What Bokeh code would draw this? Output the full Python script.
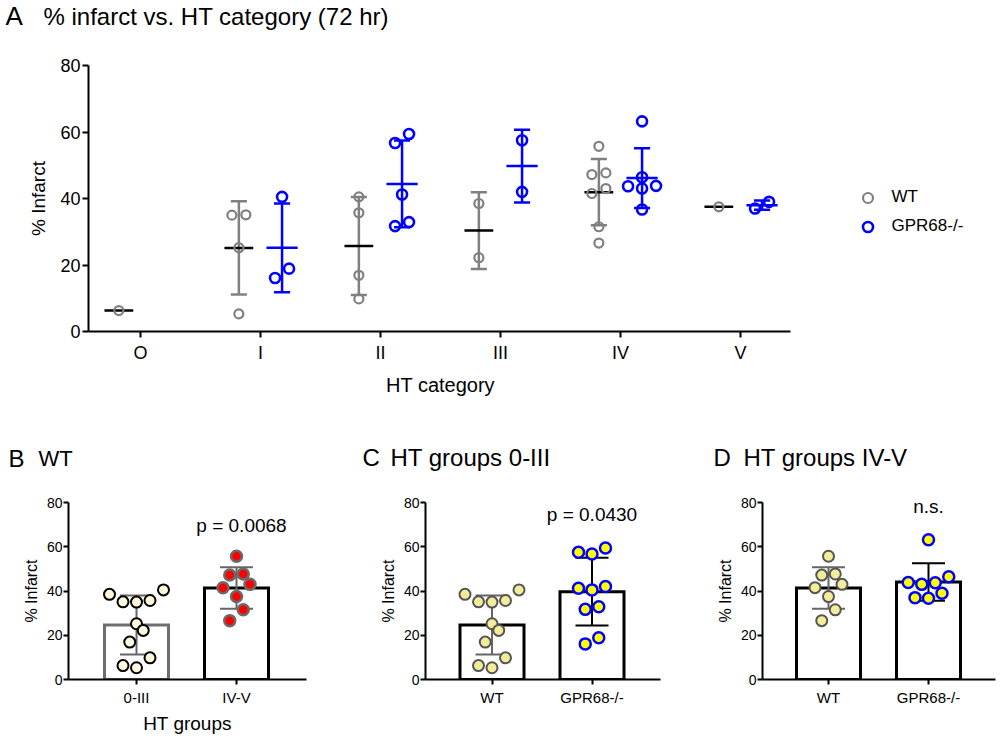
import numpy as np
from bokeh.plotting import figure
from bokeh.models import Range1d, FixedTicker, Label, Legend, LegendItem
from bokeh.layouts import column, row
from bokeh.embed import file_html
from bokeh.resources import INLINE

# ---------------- data ----------------
categories = ["O", "I", "II", "III", "IV", "V"]

wt_O = [6.3]
wt_I = [35.0, 35.1, 25.2, 5.3]
wt_II = [40.5, 35.7, 16.9, 9.8]
wt_III = [38.5, 22.2]
wt_IV = [55.7, 47.7, 47.2, 43.0, 41.5, 31.5, 26.6]
wt_V = [37.5]

gpr_O = []
gpr_I = [40.5, 18.9, 16.1]
gpr_II = [59.4, 56.7, 41.2, 32.9, 31.7]
gpr_III = [57.5, 42.0]
gpr_IV = [63.2, 46.4, 43.8, 43.7, 43.0, 36.7]
gpr_V = [39.0, 37.0]

wt_by_cat = [wt_O, wt_I, wt_II, wt_III, wt_IV, wt_V]
gpr_by_cat = [gpr_O, gpr_I, gpr_II, gpr_III, gpr_IV, gpr_V]

# pooled groups for panels B-D
wt_low = wt_O + wt_I + wt_II + wt_III      # HT 0-III
wt_high = wt_IV + wt_V                       # HT IV-V
gpr_low = gpr_O + gpr_I + gpr_II + gpr_III
gpr_high = gpr_IV + gpr_V

groups_B = ["0-III", "IV-V"]
groups_CD = ["WT", "GPR68-/-"]
series_names = ["WT", "GPR68-/-"]
p_text_B = "p = 0.0068"
p_text_C = "p = 0.0430"
p_text_D = "n.s."

FONT = "Liberation Sans"
GRAY = "#808080"
BLUE = "#0000ff"
DARK = "#666666"
LBL_DY = 8   # baseline correction for Label text


def mean_sd(v):
    v = np.asarray(v, float)
    if len(v) == 0:
        return np.nan, np.nan
    return v.mean(), (v.std(ddof=1) if len(v) > 1 else 0.0)


def swarm(vals, px_per_y, px_per_x, thresh_px, step_px):
    """Spread points with similar values side by side (dot-plot layout)."""
    vals = np.asarray(vals, float)
    order = np.argsort(vals, kind="stable")
    off = np.zeros(len(vals))
    groups, cur = [], []
    for i in order:
        if cur and (vals[i] - vals[cur[0]]) * px_per_y <= thresh_px:
            cur.append(i)
        else:
            if cur:
                groups.append(cur)
            cur = [i]
    if cur:
        groups.append(cur)
    for g in groups:
        n = len(g)
        if n % 2:
            slots = [0] + [s for k in range(1, n // 2 + 1) for s in (-k, k)]
        else:
            slots = [s for k in range(n // 2) for s in (-(k + 0.5), k + 0.5)]
        for k, idx in enumerate(g):
            off[idx] = slots[k] * step_px / px_per_x
    return off


def style_axes(p, tick_font, label_font, tick_out, lw, tick_stand, label_stand):
    for ax in (p.xaxis[0], p.yaxis[0]):
        ax.axis_line_width = lw
        ax.axis_line_color = "black"
        ax.major_tick_line_width = lw
        ax.major_tick_line_color = "black"
        ax.major_tick_out = tick_out
        ax.major_tick_in = 0
        ax.minor_tick_line_color = None
        ax.major_label_text_font = FONT
        ax.major_label_text_color = "black"
        ax.axis_label_text_font = FONT
        ax.axis_label_text_font_style = "normal"
        ax.axis_label_text_color = "black"
    p.xaxis[0].major_label_text_font_size = tick_font[0]
    p.yaxis[0].major_label_text_font_size = tick_font[1]
    p.xaxis[0].axis_label_text_font_size = label_font[0]
    p.yaxis[0].axis_label_text_font_size = label_font[1]
    p.xaxis[0].major_label_standoff = tick_stand[0]
    p.yaxis[0].major_label_standoff = tick_stand[1]
    p.xaxis[0].axis_label_standoff = label_stand[0]
    p.yaxis[0].axis_label_standoff = label_stand[1]
    p.xgrid.grid_line_color = None
    p.ygrid.grid_line_color = None
    p.outline_line_color = None


def add_text(p, x, y, text, size, align="left"):
    p.add_layout(Label(x=x, y=y + LBL_DY, x_units="screen", y_units="screen", text=text,
                       text_font=FONT, text_font_size=size, text_color="black",
                       text_align=align, text_baseline="alphabetic"))


def strip(height):
    s = figure(width=1000, height=height, x_range=Range1d(0, 1000), y_range=Range1d(0, height),
               output_backend="svg", toolbar_location=None, min_border=0,
               x_axis_location=None, y_axis_location=None)
    s.outline_line_color = None
    s.xgrid.grid_line_color = None
    s.ygrid.grid_line_color = None
    return s


# ---------------- title strip for A ----------------
sA = strip(40)
add_text(sA, 5, 17, "A", "26px")
add_text(sA, 43, 16, "% infarct vs. HT category (72 hr)", "24px")

# ---------------- Panel A ----------------
A_LEFT, A_FH = 88, 267
a_ppx = 120.0
a_x0 = -0.433
a_axis_end = 5.417
pA = figure(width=1000, height=325,
            x_range=Range1d(a_x0, a_x0 + (1000 - A_LEFT) / a_ppx), y_range=Range1d(0, 80),
            output_backend="svg", toolbar_location=None,
            min_border_left=A_LEFT, min_border_right=0, min_border_top=25, min_border_bottom=33)
style_axes(pA, ("18px", "18px"), ("20px", "19px"), 6, 2, (5, 2), (5, 8))
pA.xaxis[0].ticker = FixedTicker(ticks=list(range(len(categories))))
pA.xaxis[0].major_label_overrides = {i: c for i, c in enumerate(categories)}
pA.xaxis[0].bounds = (a_x0, a_axis_end)
pA.yaxis[0].ticker = FixedTicker(ticks=[0, 20, 40, 60, 80])
pA.yaxis[0].axis_label = "% Infarct"

a_ppy = A_FH / 80.0
dodge = 0.18

wt_x, wt_y, gpr_x, gpr_y = [], [], [], []
for ci, (wv, gv) in enumerate(zip(wt_by_cat, gpr_by_cat)):
    for vals, sign, xs, ys, col, mcol, mhalf in ((wv, -1, wt_x, wt_y, GRAY, "black", 0.12),
                                                  (gv, 1, gpr_x, gpr_y, BLUE, BLUE, 0.13)):
        if not vals:
            continue
        xc = ci + sign * dodge
        off = swarm(vals, a_ppy, a_ppx, 10, 14)
        xs.extend(list(xc + off))
        ys.extend(vals)
        m, s = mean_sd(vals)
        if len(vals) > 1:
            pA.segment(x0=[xc], y0=[m - s], x1=[xc], y1=[m + s], line_color=col, line_width=2.5)
            pA.segment(x0=[xc - 0.067, xc - 0.067], y0=[m - s, m + s],
                       x1=[xc + 0.067, xc + 0.067], y1=[m - s, m + s],
                       line_color=col, line_width=2.5)
        pA.segment(x0=[xc - mhalf], y0=[m], x1=[xc + mhalf], y1=[m], line_color=mcol, line_width=2.5)

r_wt = pA.scatter(wt_x, wt_y, marker="circle", size=9, fill_color=None, line_color=GRAY, line_width=2.2)
r_gpr = pA.scatter(gpr_x, gpr_y, marker="circle", size=10, fill_color=None, line_color=BLUE, line_width=2.6)

legend = Legend(items=[LegendItem(label=series_names[0], renderers=[r_wt]),
                       LegendItem(label=series_names[1], renderers=[r_gpr])],
                location=(766.5, 92.5), orientation="vertical", glyph_width=25, glyph_height=25,
                label_height=25, spacing=4, padding=0, margin=0, label_standoff=12,
                border_line_color=None, background_fill_alpha=0,
                label_text_font=FONT, label_text_font_size="17px", label_text_color="black")
pA.add_layout(legend)

# ---------------- strip: A's x-axis title, titles of B, C, D ----------------
sB = strip(115)
add_text(sB, 440, 88, "HT category", "20px", "center")
add_text(sB, 8, 14, "B", "24px")
add_text(sB, 38, 14, "WT", "22px")
add_text(sB, 362, 15, "C", "24px")
add_text(sB, 390, 15, "HT groups 0-III", "24px")
add_text(sB, 713, 15, "D", "24px")
add_text(sB, 743, 15, "HT groups IV-V", "24px")

# ---------------- Panels B, C, D ----------------
BAR_FH = 177


def bar_panel(width, left, frame_w, x_start, labels, data, bar_lines, err_cols,
              pt_fills, pt_lines, pt_lws, xlabel=None):
    right = width - left - frame_w
    p = figure(width=width, height=260, x_range=Range1d(x_start, x_start + frame_w / 100.0),
               y_range=Range1d(0, 80), output_backend="svg", toolbar_location=None,
               min_border_left=left, min_border_right=right, min_border_top=22, min_border_bottom=61)
    style_axes(p, ("15px", "14px"), ("19px", "16px"), 5, 2, (4, 1), (4, 4))
    p.xaxis[0].ticker = FixedTicker(ticks=[0, 1])
    p.xaxis[0].major_label_overrides = {i: c for i, c in enumerate(labels)}
    p.yaxis[0].ticker = FixedTicker(ticks=[0, 20, 40, 60, 80])
    p.yaxis[0].axis_label = "% Infarct"
    if xlabel:
        p.xaxis[0].axis_label = xlabel
    ppx = 100.0
    ppy = BAR_FH / 80.0
    stats = [mean_sd(v) for v in data]
    for i, (m, s) in enumerate(stats):
        p.vbar(x=[i], top=[m], bottom=0, width=0.64, fill_color="white",
               line_color=bar_lines[i], line_width=3, line_join="miter")
    for i, (m, s) in enumerate(stats):
        p.segment(x0=[i], y0=[m - s], x1=[i], y1=[m + s], line_color=err_cols[i], line_width=2)
        p.segment(x0=[i - 0.165, i - 0.165], y0=[m - s, m + s], x1=[i + 0.165, i + 0.165],
                  y1=[m - s, m + s], line_color=err_cols[i], line_width=2)
    for i, vals in enumerate(data):
        off = swarm(vals, ppy, ppx, 13, 13.5)
        p.scatter(i + off, vals, marker="circle", size=11, fill_color=pt_fills[i],
                  line_color=pt_lines[i], line_width=pt_lws[i])
    return p


pB = bar_panel(345, 68, 238, -0.68, groups_B, [wt_low, wt_high],
               ["#6e6e6e", "black"], [DARK, DARK],
               ["#fdf8dc", "#ff0000"], ["black", "#6a6a6a"], [2, 2.5], xlabel="HT groups")
add_text(pB, 173, 146, p_text_B, "19px", "center")

pC = bar_panel(330, 80, 235, -0.665, groups_CD, [wt_low, gpr_low],
               ["black", "black"], [DARK, "black"],
               ["#f3ec98", "#ffff00"], ["#555555", BLUE], [2, 2.5])
add_text(pC, 166.5, 157, p_text_C, "19px", "center")

pD = bar_panel(325, 87, 233, -0.66, groups_CD, [wt_high, gpr_high],
               ["black", "black"], [DARK, "black"],
               ["#f3ec98", "#ffff00"], ["#555555", BLUE], [2, 2.5])
add_text(pD, 166, 165, p_text_D, "19px", "center")

layout = column(row(sA), pA, row(sB), row(pB, pC, pD))
open("out.html", "w").write(file_html(layout, INLINE))
